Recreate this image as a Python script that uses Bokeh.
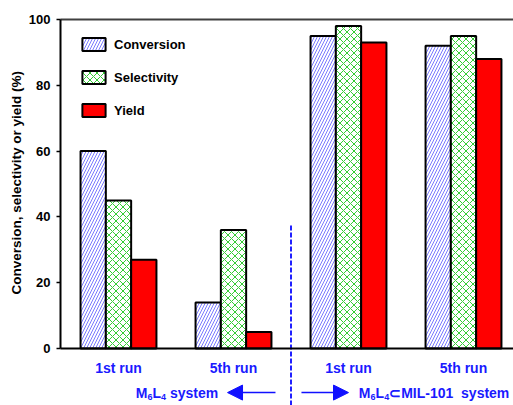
import math
from bokeh.plotting import figure
from bokeh.models import (ColumnDataSource, LinearAxis, FixedTicker, Range1d,
                          Legend, LegendItem, Arrow, NormalHead)
from bokeh.embed import file_html
from bokeh.resources import INLINE
from bokeh.core.properties import value

# ---- data ----
group_pos = [1, 2, 3, 4]
group_labels = ["1st run", "5th run", "1st run", "5th run"]
conversion = [60, 14, 95, 92]
selectivity = [45, 36, 98, 95]
yield_pct = [27, 5, 93, 88]
y_ticks = [0, 20, 40, 60, 80, 100]
y_title = "Conversion, selectivity or yield (%)"
# system labels split into normal / subscript pieces: M6L4 ...
sys_main_left = ["M", "L", "system"]
sys_sub_left = ["6", "4"]
sys_main_right = ["M", "L", "\u2282MIL-101\u00a0\u00a0system"]
sys_sub_right = ["6", "4"]

FONT = "Liberation Sans"
BLUE = "#1a1aff"

# whole canvas is the frame; axes are placed at fixed data locations
X0, X1 = -0.02609, 4.43478
Y0, Y1 = -17.325, 105.775
XL = 0.49565   # left edge of the plotting area (data units)
XR = 4.6

p = figure(width=513, height=405, output_backend="svg", toolbar_location=None,
           x_range=Range1d(X0, X1), y_range=Range1d(Y0, Y1),
           x_axis_type=None, y_axis_type=None,
           min_border_left=0, min_border_right=0, min_border_top=0, min_border_bottom=0)
p.outline_line_color = None
p.background_fill_color = "white"
p.border_fill_color = "white"

bw = 0.22
off = 0.22
src = ColumnDataSource(dict(
    xc=[g - off for g in group_pos], xs=list(group_pos), xy=[g + off for g in group_pos],
    conv=conversion, sel=selectivity, yld=yield_pct))

r_conv = p.vbar(x="xc", top="conv", bottom=0, width=bw, source=src,
                fill_color="white", line_color="black", line_width=2,
                hatch_pattern="right_diagonal_line", hatch_color="#6a6aff",
                hatch_scale=6, hatch_weight=0.9)
r_sel = p.vbar(x="xs", top="sel", bottom=0, width=bw, source=src,
               fill_color="white", line_color="black", line_width=2,
               hatch_pattern="diagonal_cross", hatch_color="#33cc33",
               hatch_scale=7, hatch_weight=1)
r_yld = p.vbar(x="xy", top="yld", bottom=0, width=bw, source=src,
               fill_color="#ff0000", line_color="black", line_width=2)

# y axis
yax = LinearAxis(ticker=FixedTicker(ticks=y_ticks), bounds=(0, 100), fixed_location=XL)
yax.axis_line_width = 2
yax.axis_line_color = "black"
yax.major_tick_line_width = 1.5
yax.major_tick_in = 0
yax.major_tick_out = 4
yax.minor_tick_line_color = None
yax.major_label_standoff = 6
yax.major_label_text_font = FONT
yax.major_label_text_font_style = "bold"
yax.major_label_text_font_size = "13px"
yax.major_label_text_color = "black"
p.add_layout(yax, "left")

# top line
tax = LinearAxis(ticker=FixedTicker(ticks=[]), fixed_location=100, bounds=(XL, XR))
tax.axis_line_width = 2
tax.axis_line_color = "#404040"
tax.major_tick_line_color = None
tax.minor_tick_line_color = None
p.add_layout(tax, "above")

# x axis at y=0
xax = LinearAxis(ticker=FixedTicker(ticks=group_pos), fixed_location=0, bounds=(XL, XR),
                 major_label_overrides={g: l for g, l in zip(group_pos, group_labels)})
xax.axis_line_width = 2
xax.axis_line_color = "black"
xax.major_tick_line_color = None
xax.minor_tick_line_color = None
xax.major_label_standoff = 5
xax.major_label_text_font = FONT
xax.major_label_text_font_style = "bold"
xax.major_label_text_font_size = "14px"
xax.major_label_text_color = BLUE
p.add_layout(xax, "below")

# y title
p.text(x=[0.113], y=[50.4], text=[y_title], angle=math.pi / 2,
       text_align="center", text_baseline="middle",
       text_font=value(FONT), text_font_style="bold", text_font_size="13.5px",
       text_color="black")

# divider
p.segment(x0=[2.5], y0=[37.4], x1=[2.5], y1=[Y0 - 1], line_color="#2020ff",
          line_width=2, line_dash="5 2")

# system labels (M, sub 6, L, sub 4, rest)
XS_L, XS_R, YS = 1.15, 3.09, -13.4
main_offsets = [0, 16.7, 34.2]
main_offsets_r = [0, 16.7, 30.3]
sub_offsets = [11.7, 25.3]
p.text(x=[XS_L] * 3 + [XS_R] * 3, y=[YS] * 6,
       x_offset=main_offsets + main_offsets_r, y_offset=[0] * 6,
       text=sys_main_left + sys_main_right,
       text_font=value(FONT), text_font_style="bold", text_font_size="14px",
       text_color=BLUE, text_align="left", text_baseline="middle")
p.text(x=[XS_L] * 2 + [XS_R] * 2, y=[YS] * 4,
       x_offset=sub_offsets + sub_offsets, y_offset=[4.5] * 4,
       text=sys_sub_left + sys_sub_right,
       text_font=value(FONT), text_font_style="bold", text_font_size="9px",
       text_color=BLUE, text_align="left", text_baseline="middle")

p.add_layout(Arrow(x_start=2.365, y_start=YS, x_end=1.948, y_end=YS,
                   line_color="#1010ff", line_width=1.5,
                   end=NormalHead(size=15, fill_color="#1010ff", line_color="#1010ff")))
p.add_layout(Arrow(x_start=2.591, y_start=YS, x_end=3.0, y_end=YS,
                   line_color="#1010ff", line_width=1.5,
                   end=NormalHead(size=15, fill_color="#1010ff", line_color="#1010ff")))

legend = Legend(items=[LegendItem(label="Conversion", renderers=[r_conv]),
                       LegendItem(label="Selectivity", renderers=[r_sel]),
                       LegendItem(label="Yield", renderers=[r_yld])],
                location=(79, 287), padding=0, margin=0, spacing=17,
                glyph_width=29, glyph_height=16, label_height=16, label_standoff=6,
                border_line_color=None, background_fill_alpha=0,
                label_text_font=FONT, label_text_font_style="bold",
                label_text_font_size="13px", label_text_color="black")
p.add_layout(legend, "center")
p.xgrid.visible = False
p.ygrid.visible = False

open("out.html", "w").write(file_html(p, INLINE))
